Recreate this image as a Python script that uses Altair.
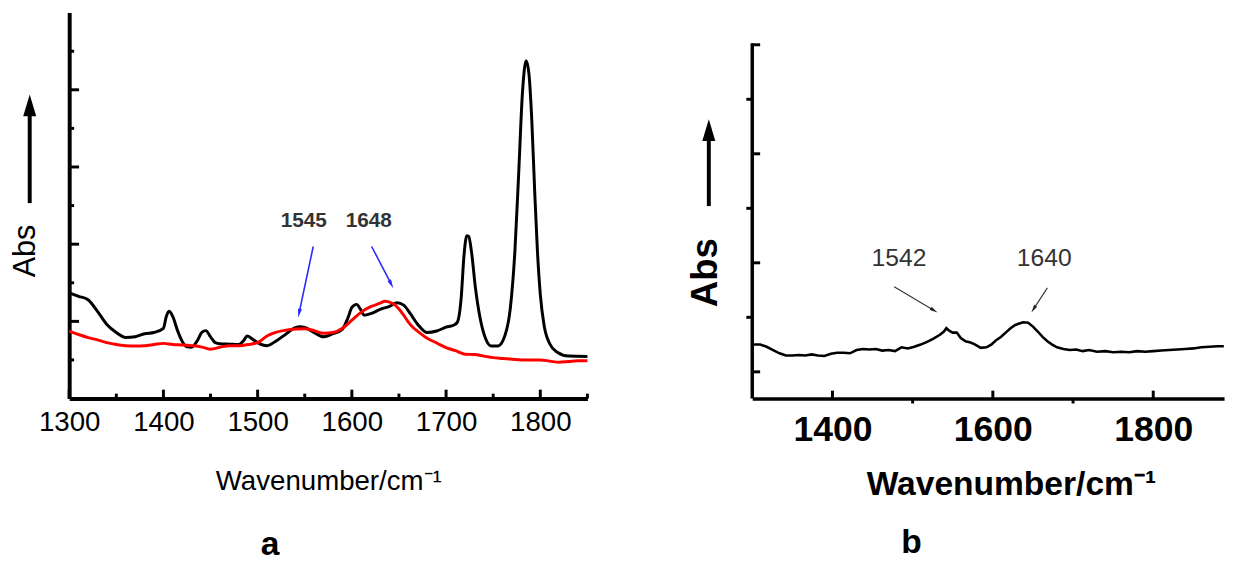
import math
import altair as alt
import pandas as pd

FONT = "Liberation Sans"

# ---------------- panel a data ----------------
A_BLACK_X = [1300, 1310, 1320, 1330, 1340, 1350, 1360, 1370, 1380, 1390, 1400, 1403, 1406,
             1410, 1415, 1420, 1425, 1430, 1436, 1441, 1445, 1450, 1455, 1460, 1470, 1480,
             1485, 1489, 1494, 1500, 1510, 1520, 1530, 1540, 1545, 1550, 1560, 1570, 1580,
             1590, 1596, 1600, 1605, 1609, 1613, 1620, 1630, 1640, 1648, 1655, 1662, 1670,
             1680, 1690, 1700, 1708, 1712, 1716, 1719, 1722, 1724, 1727, 1731, 1736, 1742,
             1748, 1755, 1762, 1768, 1773, 1777, 1781, 1785, 1788, 1791, 1794, 1797, 1800,
             1804, 1810, 1818, 1830, 1850]
A_BLACK_Y = [2.74, 2.65, 2.56, 2.26, 1.92, 1.71, 1.58, 1.60, 1.68, 1.71, 1.82, 2.12, 2.26,
             2.12, 1.76, 1.48, 1.34, 1.33, 1.50, 1.72, 1.76, 1.60, 1.45, 1.42, 1.41, 1.40,
             1.50, 1.62, 1.55, 1.45, 1.37, 1.50, 1.67, 1.84, 1.86, 1.84, 1.71, 1.60, 1.68,
             1.80, 2.10, 2.36, 2.44, 2.32, 2.16, 2.20, 2.31, 2.39, 2.48, 2.42, 2.20, 1.92,
             1.71, 1.75, 1.85, 1.90, 1.98, 2.60, 3.70, 4.22, 4.20, 3.80, 2.90, 2.10, 1.55,
             1.36, 1.36, 1.60, 2.30, 3.80, 5.80, 7.90, 8.75, 8.40, 7.20, 5.40, 3.80, 2.70,
             1.90, 1.42, 1.20, 1.10, 1.09]
A_RED_X = [1300, 1310, 1320, 1330, 1340, 1350, 1360, 1370, 1380, 1390, 1400, 1410, 1420,
           1430, 1440, 1450, 1460, 1470, 1480, 1490, 1500, 1510, 1520, 1530, 1540, 1550,
           1560, 1570, 1580, 1590, 1600, 1610, 1620, 1630, 1635, 1640, 1645, 1650, 1655,
           1660, 1665, 1670, 1680, 1690, 1700, 1710, 1720, 1730, 1740, 1750, 1760, 1770,
           1780, 1790, 1800, 1810, 1820, 1830, 1840, 1850]
A_RED_Y = [1.75, 1.66, 1.58, 1.52, 1.45, 1.40, 1.37, 1.36, 1.37, 1.40, 1.43, 1.40, 1.39,
           1.37, 1.34, 1.28, 1.33, 1.37, 1.37, 1.40, 1.45, 1.62, 1.72, 1.77, 1.80, 1.81,
           1.76, 1.69, 1.71, 1.82, 2.03, 2.24, 2.38, 2.47, 2.52, 2.50, 2.44, 2.32, 2.16,
           1.98, 1.84, 1.74, 1.56, 1.44, 1.32, 1.24, 1.15, 1.14, 1.10, 1.06, 1.04, 1.02,
           1.00, 1.00, 1.00, 0.97, 0.94, 0.96, 0.98, 0.98]
A_XTICK_LABELS = [1300, 1400, 1500, 1600, 1700, 1800]
A_XTICK_MINOR = [1350, 1450, 1550, 1650, 1750, 1850]
A_YTICK_MAJOR = [2, 4, 6, 8]
A_YTICK_MINOR = [1, 3, 5, 7, 9]
A_NOTE_TEXT = ["1545", "1648"]
A_NOTE_X = [1549, 1618]
A_NOTE_Y = [4.6, 4.6]
A_ARROW_X1 = [1559, 1621]
A_ARROW_Y1 = [3.94, 3.94]
A_ARROW_X2 = [1543, 1644]
A_ARROW_Y2 = [2.10, 2.86]

# ---------------- panel b data ----------------
B_X = [1300, 1310, 1318, 1326, 1334, 1342, 1350, 1358, 1366, 1374, 1382, 1390, 1398, 1406,
       1414, 1422, 1430, 1438, 1446, 1454, 1462, 1470, 1478, 1486, 1494, 1502, 1510, 1518,
       1526, 1534, 1539, 1542, 1546, 1550, 1555, 1560, 1566, 1572, 1578, 1585, 1592, 1598,
       1604, 1610, 1616, 1622, 1628, 1634, 1638, 1644, 1650, 1656, 1662, 1668, 1674, 1680,
       1688, 1696, 1704, 1712, 1720, 1730, 1740, 1750, 1760, 1770, 1780, 1790, 1800, 1810,
       1820, 1830, 1840, 1850, 1860, 1870, 1880, 1888]
B_Y = [0.50, 0.50, 0.46, 0.40, 0.34, 0.30, 0.30, 0.31, 0.30, 0.32, 0.30, 0.29, 0.33, 0.35,
       0.35, 0.34, 0.40, 0.42, 0.41, 0.42, 0.39, 0.40, 0.38, 0.45, 0.43, 0.46, 0.50, 0.55,
       0.61, 0.68, 0.74, 0.80, 0.75, 0.72, 0.72, 0.62, 0.56, 0.54, 0.50, 0.44, 0.45, 0.50,
       0.58, 0.64, 0.72, 0.80, 0.86, 0.89, 0.91, 0.90, 0.83, 0.74, 0.64, 0.56, 0.50, 0.45,
       0.42, 0.40, 0.41, 0.38, 0.40, 0.37, 0.38, 0.36, 0.37, 0.36, 0.38, 0.37, 0.38, 0.39,
       0.40, 0.41, 0.42, 0.43, 0.45, 0.46, 0.47, 0.47]
B_XTICK_LABELS = [1400, 1600, 1800]
B_XTICK_MINOR = [1500, 1700]
B_YTICK_IN = [0, 2, 4, 6]
B_YTICK_OUT = [1, 3, 5]
B_YAXIS_RANGE = [-0.49, 6.03]
B_NOTE_TEXT = ["1542", "1640"]
B_NOTE_X = [1483, 1664]
B_NOTE_Y = [2.08, 2.08]
B_ARROW_X1 = [1477, 1668]
B_ARROW_Y1 = [1.56, 1.54]
B_ARROW_X2 = [1531, 1648]
B_ARROW_Y2 = [1.09, 1.09]

assert len(A_BLACK_X) == len(A_BLACK_Y)
assert len(A_RED_X) == len(A_RED_Y)
assert len(B_X) == len(B_Y)

# ---------------- geometry ----------------
WA, HA = 525, 391
WB, HB = 478, 391
A_XDOM = [1300, 1850]
A_YDOM = [0, 10]
B_XDOM = [1300, 1300 + WB / 0.8125]
B_YDOM = [-0.49, 6.59]
A_PX_Y = HA / (A_YDOM[1] - A_YDOM[0])   # pixels per y unit
B_PX_Y = HB / (B_YDOM[1] - B_YDOM[0])

HEAD = "M0,-1L0.45,1L-0.45,1Z"
BIG_HEAD = "M0,-1L0.6,1L-0.6,1Z"
NO_FRAME = alt.ViewBackground(stroke="transparent", strokeWidth=0)


def arrow_frame(x1, y1, x2, y2, xdom, ydom, w, h, head_len):
    sx = w / (xdom[1] - xdom[0])
    sy = h / (ydom[1] - ydom[0])
    rows = []
    for a, b, c, d in zip(x1, y1, x2, y2):
        dx = (c - a) * sx
        dy = -(d - b) * sy
        n = math.hypot(dx, dy)
        ux, uy = dx / n, dy / n
        ang = math.degrees(math.atan2(ux, -uy)) % 360
        hx = c - ux * head_len / 2 / sx
        hy = d + uy * head_len / 2 / sy
        rows.append({"x": a, "y": b, "hx": hx, "hy": hy, "ang": ang})
    return pd.DataFrame(rows)


def xtick_frame(values, base, length_px, px_per_unit):
    return pd.DataFrame({"x": values, "y": [base] * len(values),
                         "y2": [base + length_px / px_per_unit] * len(values)})


def panel_a():
    xs = alt.Scale(domain=A_XDOM, nice=False, zero=False)
    ys = alt.Scale(domain=A_YDOM, nice=False, zero=False)
    ax = alt.Axis(
        values=A_XTICK_LABELS, ticks=False, grid=False, labels=True, labelFontSize=28,
        labelFont=FONT, labelColor="black", labelPadding=10, labelFlush=False,
        domainWidth=4, domainColor="black",
        title="Wavenumber/cm\u207b\u00b9", titleFont=FONT, titleFontSize=28,
        titleFontWeight="normal", titleColor="black", titlePadding=32, format="d")
    ay = alt.Axis(
        labels=False, ticks=False, grid=False, domainWidth=4, domainColor="black",
        title="Abs", titleFont=FONT, titleFontSize=31, titleFontWeight="normal",
        titleColor="black", titleX=-44, titleY=241, titleAngle=270,
        titleAlign="center", titleBaseline="middle")
    X = lambda f: alt.X(f, scale=xs, axis=ax)
    Y = lambda f: alt.Y(f, scale=ys, axis=ay)

    black = pd.DataFrame({"x": A_BLACK_X, "y": A_BLACK_Y})
    red = pd.DataFrame({"x": A_RED_X, "y": A_RED_Y})

    base_line = alt.Chart(black).mark_line(color="black", strokeWidth=3, interpolate="monotone").encode(
        x=X("x:Q"), y=Y("y:Q"))
    red_line = alt.Chart(red).mark_line(color="#ff0000", strokeWidth=3, interpolate="monotone").encode(
        x=X("x:Q"), y=Y("y:Q"))

    xt_major = alt.Chart(xtick_frame(A_XTICK_LABELS, A_YDOM[0], 9, A_PX_Y)).mark_rule(
        color="black", strokeWidth=3).encode(x=X("x:Q"), y=Y("y:Q"), y2="y2:Q")
    xt_minor = alt.Chart(xtick_frame(A_XTICK_MINOR, A_YDOM[0], 5, A_PX_Y)).mark_rule(
        color="black", strokeWidth=3).encode(x=X("x:Q"), y=Y("y:Q"), y2="y2:Q")
    yt_major = alt.Chart(pd.DataFrame({"y": A_YTICK_MAJOR})).mark_rule(color="black", strokeWidth=3).encode(
        y=Y("y:Q"), x=alt.value(0), x2=alt.value(10))
    yt_minor = alt.Chart(pd.DataFrame({"y": A_YTICK_MINOR})).mark_rule(color="black", strokeWidth=3).encode(
        y=Y("y:Q"), x=alt.value(0), x2=alt.value(5))

    notes = alt.Chart(pd.DataFrame({"x": A_NOTE_X, "y": A_NOTE_Y, "t": A_NOTE_TEXT})).mark_text(
        font=FONT, fontSize=21, fontWeight="bold", color="#333333", align="center", baseline="middle").encode(
        x=X("x:Q"), y=Y("y:Q"), text="t:N")

    arr = arrow_frame(A_ARROW_X1, A_ARROW_Y1, A_ARROW_X2, A_ARROW_Y2, A_XDOM, A_YDOM, WA, HA, 9)
    shafts = alt.Chart(arr).mark_rule(color="#2a2aff", strokeWidth=1.6).encode(
        x=X("x:Q"), y=Y("y:Q"), x2="hx:Q", y2="hy:Q")
    heads_df = arr[["hx", "hy", "ang"]].rename(columns={"hx": "x", "hy": "y"})
    heads = alt.Chart(heads_df).mark_point(shape=HEAD, filled=True, size=81, color="#2a2aff", opacity=1).encode(
        x=X("x:Q"), y=Y("y:Q"), angle=alt.Angle("ang:Q", scale=None))

    one = pd.DataFrame({"k": [0]})
    abs_shaft = alt.Chart(one).mark_rule(color="black", strokeWidth=4).encode(
        x=alt.value(-40), y=alt.value(193), y2=alt.value(100))
    abs_head = alt.Chart(one).mark_point(shape=BIG_HEAD, filled=True, size=484, color="black", opacity=1).encode(
        x=alt.value(-40), y=alt.value(94))

    return alt.layer(base_line, red_line, xt_major, xt_minor, yt_major, yt_minor, notes,
                     shafts, heads, abs_shaft, abs_head).properties(
        width=WA, height=HA, view=NO_FRAME,
        title=alt.TitleParams("a", orient="bottom", anchor="start", frame="group", dx=194, offset=33,
                              fontSize=34, fontWeight="bold", font=FONT, color="black"))


def panel_b():
    xs = alt.Scale(domain=B_XDOM, nice=False, zero=False)
    ys = alt.Scale(domain=B_YDOM, nice=False, zero=False)
    ax = alt.Axis(
        values=B_XTICK_LABELS, ticks=False, grid=False, labelFontSize=36, labelFontWeight="bold",
        labelFont=FONT, labelColor="black", labelPadding=15, labelFlush=False,
        domainWidth=3.5, domainColor="black",
        title="Wavenumber/cm\u207b\u00b9", titleFont=FONT, titleFontSize=34,
        titleFontWeight="bold", titleColor="black", titlePadding=20, titleX=262,
        titleAlign="center", format="d")
    ay = alt.Axis(
        labels=False, ticks=False, grid=False, domain=False,
        title="Abs", titleFont=FONT, titleFontSize=37, titleFontWeight="bold",
        titleColor="black", titleX=-47, titleY=263, titleAngle=270,
        titleAlign="center", titleBaseline="middle")
    X = lambda f: alt.X(f, scale=xs, axis=ax)
    Y = lambda f: alt.Y(f, scale=ys, axis=ay)

    df = pd.DataFrame({"x": B_X, "y": B_Y})
    line = alt.Chart(df).mark_line(color="black", strokeWidth=2.6, interpolate="linear").encode(
        x=X("x:Q"), y=Y("y:Q"))
    yaxis = alt.Chart(pd.DataFrame({"y": [B_YAXIS_RANGE[0]], "hi": [B_YAXIS_RANGE[1]]})).mark_rule(
        color="black", strokeWidth=3.5).encode(x=alt.value(0), y=Y("y:Q"), y2="hi:Q")
    xt_major = alt.Chart(xtick_frame(B_XTICK_LABELS, B_YDOM[0], 8, B_PX_Y)).mark_rule(
        color="black", strokeWidth=3).encode(x=X("x:Q"), y=Y("y:Q"), y2="y2:Q")
    xt_minor = alt.Chart(xtick_frame(B_XTICK_MINOR, B_YDOM[0], -5, B_PX_Y)).mark_rule(
        color="black", strokeWidth=3).encode(x=X("x:Q"), y=Y("y:Q"), y2="y2:Q")
    yt_in = alt.Chart(pd.DataFrame({"y": B_YTICK_IN})).mark_rule(color="black", strokeWidth=3).encode(
        y=Y("y:Q"), x=alt.value(0), x2=alt.value(8))
    yt_out = alt.Chart(pd.DataFrame({"y": B_YTICK_OUT})).mark_rule(color="black", strokeWidth=3).encode(
        y=Y("y:Q"), x=alt.value(0), x2=alt.value(-6))

    notes = alt.Chart(pd.DataFrame({"x": B_NOTE_X, "y": B_NOTE_Y, "t": B_NOTE_TEXT})).mark_text(
        font=FONT, fontSize=25, fontWeight="normal", color="#333333", align="center", baseline="middle").encode(
        x=X("x:Q"), y=Y("y:Q"), text="t:N")

    arr = arrow_frame(B_ARROW_X1, B_ARROW_Y1, B_ARROW_X2, B_ARROW_Y2, B_XDOM, B_YDOM, WB, HB, 8)
    shafts = alt.Chart(arr).mark_rule(color="#333333", strokeWidth=1.1).encode(
        x=X("x:Q"), y=Y("y:Q"), x2="hx:Q", y2="hy:Q")
    heads_df = arr[["hx", "hy", "ang"]].rename(columns={"hx": "x", "hy": "y"})
    heads = alt.Chart(heads_df).mark_point(shape=HEAD, filled=True, size=64, color="#222222", opacity=1).encode(
        x=X("x:Q"), y=Y("y:Q"), angle=alt.Angle("ang:Q", scale=None))

    one = pd.DataFrame({"k": [0]})
    abs_shaft = alt.Chart(one).mark_rule(color="black", strokeWidth=4).encode(
        x=alt.value(-44), y=alt.value(196), y2=alt.value(125))
    abs_head = alt.Chart(one).mark_point(shape=BIG_HEAD, filled=True, size=484, color="black", opacity=1).encode(
        x=alt.value(-44), y=alt.value(119))

    return alt.layer(line, yaxis, xt_major, xt_minor, yt_in, yt_out, notes, shafts, heads,
                     abs_shaft, abs_head).properties(
        width=WB, height=HB, view=NO_FRAME,
        title=alt.TitleParams("b", orient="bottom", anchor="start", frame="group", dx=151, offset=25,
                              fontSize=34, fontWeight="bold", font=FONT, color="black"))


chart = alt.hconcat(panel_a(), panel_b(), spacing=95).properties(
    padding={"left": 2, "top": 1, "right": 0, "bottom": 3}
).configure(font=FONT).configure_view(stroke="transparent", strokeWidth=0)

chart.save("out.html", embed_options={"renderer": "svg", "actions": False})
